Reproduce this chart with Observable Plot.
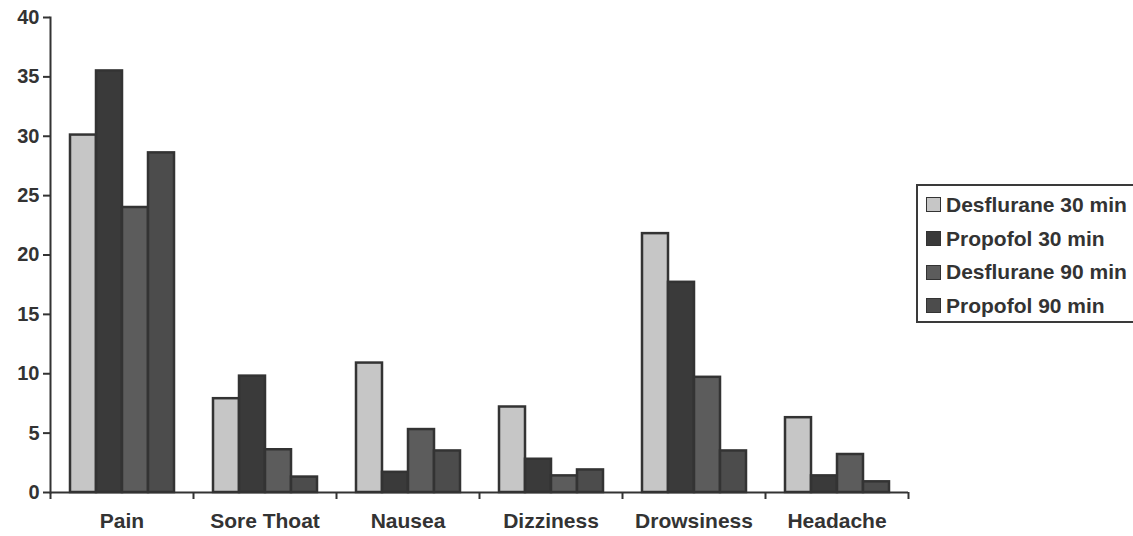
<!DOCTYPE html>
<html>
<head>
<meta charset="utf-8">
<script src="https://cdn.jsdelivr.net/npm/d3@7"></script>
<script src="https://cdn.jsdelivr.net/npm/@observablehq/plot@0.6"></script>
<style>
  html, body { margin: 0; padding: 0; background: #fff; }
  #wrap { position: relative; width: 1133px; height: 536px; overflow: hidden; font-family: "Liberation Sans", Arial, sans-serif; }
  #legend { position: absolute; left: 916px; top: 184px; width: 240px; height: 139px; border: 2px solid #3a3a3a; box-sizing: border-box; padding-top: 2px; }
  .item { display: flex; align-items: center; height: 33.7px; font-weight: bold; font-size: 21px; color: #333; white-space: nowrap; }
  .sw { width: 15px; height: 15px; margin-left: 8px; margin-right: 5px; border: 1px solid #333; box-sizing: border-box; }
</style>
</head>
<body>
<div id="wrap"></div>
<script>
const categories = ["Pain", "Sore Thoat", "Nausea", "Dizziness", "Drowsiness", "Headache"];
const series = ["Desflurane 30 min", "Propofol 30 min", "Desflurane 90 min", "Propofol 90 min"];
const desflurane30 = [30.1, 7.9, 10.9, 7.2, 21.8, 6.3];
const propofol30   = [35.5, 9.8, 1.7, 2.8, 17.7, 1.4];
const desflurane90 = [24.0, 3.6, 5.3, 1.4, 9.7, 3.2];
const propofol90   = [28.6, 1.3, 3.5, 1.9, 3.5, 0.9];
const yTicks = [0, 5, 10, 15, 20, 25, 30, 35, 40];
const colors = ["#c6c6c6", "#3a3a3a", "#5c5c5c", "#4c4c4c"];

const seriesValues = [desflurane30, propofol30, desflurane90, propofol90];
const data = [];
categories.forEach((c, i) => series.forEach((s, j) => data.push({category: c, series: s, value: seriesValues[j][i]})));

const W = 1133, H = 536, mL = 50, mR = 225;
const step = (W - mL - mR) / categories.length;
const ink = "#333";

const chart = Plot.plot({
  width: W, height: H,
  marginTop: 17, marginBottom: 44, marginLeft: mL, marginRight: mR,
  style: {fontFamily: "'Liberation Sans', Arial, sans-serif", fontWeight: "bold", fontSize: "20px", color: ink, background: "transparent"},
  fx: {domain: categories, paddingInner: 0, paddingOuter: 0, label: null},
  x: {domain: series, paddingInner: 0, paddingOuter: 0.75, axis: null},
  y: {domain: [0, 40], label: null},
  color: {domain: series, range: colors},
  marks: [
    Plot.barY(data, {fx: "category", x: "series", y: "value", fill: "series", stroke: ink, strokeWidth: 2.5}),
    Plot.ruleY([0], {stroke: ink, strokeWidth: 2}),
    Plot.frame({anchor: "left", facet: "super", stroke: ink, strokeWidth: 2}),
    Plot.axisY({ticks: yTicks, tickSize: 7, tickPadding: 4, stroke: ink, strokeWidth: 2, fill: ink, label: null, fontSize: 20}),
    Plot.axisFx({anchor: "bottom", tickSize: 0, tickPadding: 21, fill: ink, label: null, fontSize: 21}),
    Plot.axisFx({anchor: "bottom", text: null, tickSize: 7, dx: -step / 2, stroke: ink, strokeWidth: 2, label: null}),
    Plot.axisFx({anchor: "bottom", ticks: [categories[categories.length - 1]], text: null, tickSize: 7, dx: step / 2, stroke: ink, strokeWidth: 2, label: null})
  ]
});

const wrap = document.getElementById("wrap");
wrap.appendChild(chart);
const legend = document.createElement("div");
legend.id = "legend";
series.forEach((s, j) => {
  const it = document.createElement("div");
  it.className = "item";
  const sw = document.createElement("span");
  sw.className = "sw";
  sw.style.background = colors[j];
  it.appendChild(sw);
  it.appendChild(document.createTextNode(s));
  legend.appendChild(it);
});
wrap.appendChild(legend);
</script>
</body>
</html>
